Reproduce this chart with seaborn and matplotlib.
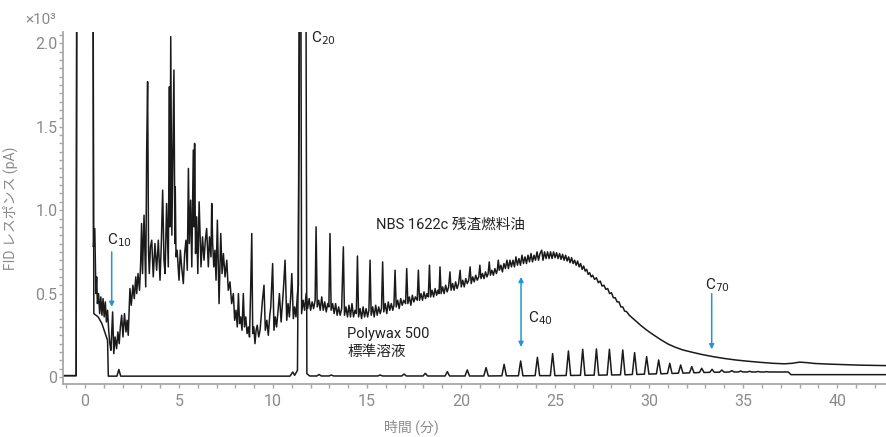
import matplotlib
matplotlib.use("Agg")
import matplotlib.pyplot as plt
from matplotlib.ticker import MultipleLocator
import pandas as pd
import seaborn as sns

# NBS 1622c residual fuel oil trace (time in min, response x10^3 pA)
oil_time = [
    -1.17, -0.47, -0.43, 0.42,
    0.45, 0.52, 0.58, 0.62, 0.66, 0.72, 0.78, 0.84, 0.90, 0.96, 1.02, 1.08, 1.14, 1.20,
    1.26, 1.32, 1.38, 1.47, 1.53, 1.60, 1.68, 1.75, 1.82, 1.88, 1.95, 2.02, 2.10, 2.18,
    2.24, 2.30, 2.39, 2.46, 2.55, 2.62, 2.70, 2.75, 2.82, 2.90, 2.96, 3.01, 3.06, 3.14,
    3.23, 3.28, 3.33, 3.38, 3.42, 3.48, 3.55, 3.63, 3.72, 3.81, 3.90, 3.99, 4.06, 4.13,
    4.20, 4.26, 4.34, 4.43, 4.49, 4.52, 4.56, 4.62, 4.67, 4.73, 4.78, 4.80, 4.84, 4.90,
    5.00, 5.07, 5.14, 5.23, 5.30, 5.37, 5.44, 5.50, 5.55, 5.62, 5.68, 5.76, 5.80, 5.83,
    5.88, 5.94, 6.00, 6.07, 6.17, 6.25, 6.33, 6.40, 6.47, 6.56, 6.62, 6.70, 6.74, 6.79,
    6.85, 6.91, 6.97, 7.04, 7.13, 7.22, 7.29, 7.36, 7.45, 7.54, 7.62, 7.71, 7.80, 7.89,
    7.96, 8.03, 8.10, 8.16, 8.22, 8.28, 8.35, 8.42, 8.48, 8.55, 8.62, 8.69, 8.75, 8.81,
    8.87, 8.92, 8.98, 9.04, 9.10, 9.16, 9.24, 9.31, 9.37, 9.43, 9.52, 9.59, 9.67, 9.75,
    9.82, 9.88, 9.98, 10.05, 10.12, 10.19, 10.27, 10.34, 10.43, 10.50, 10.55, 10.64,
    10.73, 10.80, 10.87, 10.94, 11.00, 11.08, 11.15, 11.22, 11.30, 11.35, 11.40, 11.47,
    11.52, 11.60, 11.68, 11.76, 11.84, 11.92, 12.00, 12.08, 12.16, 12.24, 12.29, 12.35,
    12.43, 12.51, 12.59, 12.67, 12.75, 12.83, 12.91, 12.97, 13.03, 13.09, 13.17, 13.25,
    13.33, 13.41, 13.49, 13.57, 13.65, 13.74, 13.80, 13.88, 13.96, 14.04, 14.12, 14.20,
    14.28, 14.36, 14.43, 14.49, 14.55, 14.63, 14.71, 14.79, 14.87, 14.95, 15.03, 15.10,
    15.16, 15.22, 15.30, 15.38, 15.46, 15.54, 15.62, 15.70, 15.77, 15.83, 15.89, 15.97,
    16.05, 16.13, 16.21, 16.29, 16.37, 16.43, 16.49, 16.55, 16.63, 16.71, 16.79, 16.87,
    16.95, 17.05, 17.11, 17.17, 17.25, 17.33, 17.41, 17.49, 17.57, 17.67, 17.73, 17.79,
    17.87, 17.95, 18.03, 18.11, 18.19, 18.26, 18.32, 18.38, 18.46, 18.54, 18.62, 18.70,
    18.77, 18.83, 18.88, 18.94, 19.02, 19.10, 19.18, 19.26, 19.34, 19.41, 19.47, 19.55,
    19.63, 19.71, 19.79, 19.87, 19.95, 20.01, 20.09, 20.17, 20.25, 20.33, 20.41, 20.48,
    20.54, 20.62, 20.70, 20.78, 20.86, 20.94, 21.00, 21.06, 21.14, 21.22, 21.30, 21.38,
    21.44, 21.50, 21.56, 21.64, 21.72, 21.80, 21.88, 21.93, 21.98, 22.04,
    22.12, 22.20, 22.28, 22.36, 22.44, 22.52, 22.60, 22.68, 22.76, 22.84, 22.92, 23.00,
    23.08, 23.16, 23.24, 23.32, 23.40, 23.48, 23.56, 23.64, 23.72, 23.80, 23.88, 23.96,
    24.04, 24.12, 24.20, 24.29, 24.36, 24.44, 24.52, 24.60, 24.68, 24.76, 24.84, 24.92,
    25.00, 25.08, 25.16, 25.24, 25.32, 25.40, 25.48, 25.56, 25.64, 25.72, 25.80, 25.88,
    25.96, 26.04, 26.12, 26.20, 26.28, 26.36, 26.44, 26.52, 26.60, 26.68, 26.76, 26.84,
    26.92, 27.00, 27.10, 27.20, 27.30, 27.40, 27.50, 27.60, 27.70, 27.80, 27.90, 28.00,
    28.10, 28.20, 28.30, 28.40, 28.50, 28.60, 28.70, 28.80, 28.95, 29.10, 29.30, 29.55,
    29.85, 30.20, 30.60, 31.00, 31.40, 31.80, 32.30, 32.80, 33.40, 34.00, 34.60, 35.20,
    35.90, 36.60, 37.20, 37.60, 38.00, 38.40, 38.80, 39.60, 40.40, 41.20, 42.70,
]
oil_resp = [
    0.008, 0.008, 3.0, 3.0,
    0.78, 0.89, 0.50, 0.60, 0.44, 0.50, 0.38, 0.48, 0.37, 0.47, 0.36, 0.45, 0.33, 0.40,
    0.28, 0.20, 0.16, 0.39, 0.14, 0.24, 0.17, 0.27, 0.20, 0.30, 0.37, 0.24, 0.38, 0.27,
    0.34, 0.25, 0.53, 0.43, 0.55, 0.47, 0.60, 0.50, 0.62, 0.52, 0.68, 0.92, 0.62, 0.97,
    0.54, 1.35, 1.77, 0.75, 0.62, 0.78, 0.82, 0.60, 0.80, 0.64, 0.82, 0.58, 0.80, 1.12,
    0.70, 0.62, 1.04, 0.66, 1.74, 0.90, 2.04, 0.85, 1.30, 1.84, 0.80, 1.14, 0.72, 0.76,
    0.58, 0.76, 0.66, 0.56, 0.74, 0.82, 0.64, 1.25, 0.80, 1.06, 0.66, 1.36, 0.90, 1.40,
    0.74, 0.96, 0.62, 1.05, 0.66, 0.84, 0.70, 0.82, 0.89, 0.66, 0.84, 0.72, 1.04, 0.80,
    0.66, 0.76, 0.58, 0.94, 0.44, 0.86, 0.62, 0.74, 0.60, 0.70, 0.52, 0.57, 0.44, 0.50,
    0.34, 0.40, 0.30, 0.50, 0.32, 0.36, 0.28, 0.50, 0.30, 0.36, 0.26, 0.30, 0.24, 0.52,
    0.86, 0.26, 0.30, 0.20, 0.28, 0.31, 0.24, 0.28, 0.36, 0.45, 0.55, 0.28, 0.34, 0.25,
    0.36, 0.42, 0.68, 0.28, 0.36, 0.30, 0.40, 0.50, 0.33, 0.44, 0.52, 0.70,
    0.34, 0.44, 0.36, 0.48, 0.62, 0.35, 0.42, 0.36, 0.50, 0.55, 3.0, 3.0,
    0.38, 0.46, 0.40, 0.50, 0.41, 0.47, 0.40, 0.45, 0.41, 0.46, 0.90, 0.42,
    0.46, 0.40, 0.48, 0.40, 0.45, 0.39, 0.44, 0.42, 0.86, 0.40, 0.44, 0.38,
    0.44, 0.37, 0.42, 0.37, 0.41, 0.78, 0.37, 0.42, 0.36, 0.43, 0.36, 0.44,
    0.36, 0.40, 0.38, 0.725, 0.36, 0.41, 0.35, 0.42, 0.36, 0.41, 0.36, 0.40,
    0.70, 0.37, 0.42, 0.36, 0.43, 0.37, 0.42, 0.38, 0.41, 0.69, 0.39, 0.44,
    0.38, 0.45, 0.40, 0.44, 0.40, 0.43, 0.64, 0.42, 0.46, 0.41, 0.47, 0.43,
    0.46, 0.44, 0.65, 0.44, 0.48, 0.43, 0.49, 0.45, 0.48, 0.46, 0.64, 0.46,
    0.50, 0.46, 0.51, 0.47, 0.50, 0.48, 0.67, 0.48, 0.52, 0.48, 0.53, 0.49,
    0.52, 0.50, 0.66, 0.50, 0.54, 0.50, 0.55, 0.51, 0.54, 0.63, 0.52, 0.56,
    0.52, 0.57, 0.53, 0.56, 0.64, 0.54, 0.58, 0.54, 0.59, 0.56, 0.58, 0.66,
    0.56, 0.60, 0.57, 0.61, 0.58, 0.60, 0.67, 0.59, 0.62, 0.59, 0.63, 0.60,
    0.62, 0.69, 0.61, 0.64, 0.61, 0.65, 0.62, 0.64, 0.70, 0.64,
    0.67, 0.63, 0.68, 0.65, 0.70, 0.65, 0.70, 0.66, 0.70, 0.66, 0.72, 0.67,
    0.71, 0.67, 0.73, 0.68, 0.72, 0.68, 0.73, 0.69, 0.74, 0.69, 0.73, 0.70,
    0.75, 0.70, 0.74, 0.76, 0.70, 0.75, 0.71, 0.75, 0.71, 0.75, 0.71, 0.75,
    0.715, 0.745, 0.71, 0.74, 0.705, 0.735, 0.70, 0.73, 0.695, 0.72, 0.685, 0.715,
    0.68, 0.70, 0.67, 0.695, 0.66, 0.68, 0.645, 0.665, 0.635, 0.645, 0.615, 0.625,
    0.60, 0.61, 0.585, 0.595, 0.565, 0.575, 0.545, 0.55, 0.525, 0.53, 0.50, 0.505,
    0.475, 0.475, 0.45, 0.45, 0.42, 0.42, 0.395, 0.392, 0.37, 0.355, 0.335, 0.31,
    0.283, 0.255, 0.225, 0.198, 0.178, 0.162, 0.148, 0.135, 0.122, 0.111, 0.102, 0.095,
    0.088, 0.082, 0.079, 0.082, 0.089, 0.086, 0.081, 0.077, 0.074, 0.071, 0.068,
]

# Polywax 500 standard: solvent front and C20 marker
pw_front_time = [-1.17, -0.47, -0.43, 0.42, 0.47, 0.70, 0.90, 1.05, 1.20, 1.24, 1.70,
                 1.80, 1.90, 10.90, 11.05, 11.15, 11.30, 11.48, 11.74, 11.80, 11.95]
pw_front_resp = [0.008, 0.008, 3.0, 3.0, 0.38, 0.36, 0.32, 0.27, 0.22, 0.005, 0.005,
                 0.045, 0.005, 0.005, 0.03, 0.01, 0.04, 3.0, 3.0, 0.02, 0.006]
# Polywax n-alkane peaks after C20
pw_peak_time = [12.45, 13.10, 15.70, 16.97, 18.10, 19.27, 20.33, 21.33, 22.29, 23.17,
                24.06, 24.87, 25.71, 26.47, 27.20, 27.89, 28.60, 29.23, 29.87, 30.51,
                31.10, 31.68, 32.27, 32.80, 33.35, 33.87, 34.40, 34.87, 35.35, 35.80, 36.25]
pw_peak_top = [0.015, 0.012, 0.012, 0.018, 0.022, 0.032, 0.042, 0.056, 0.076, 0.096,
               0.118, 0.140, 0.156, 0.166, 0.168, 0.166, 0.162, 0.146, 0.122, 0.102,
               0.082, 0.072, 0.062, 0.052, 0.046, 0.042, 0.038, 0.036, 0.034, 0.033, 0.032]
pw_peak_base = [0.006, 0.006, 0.006, 0.006, 0.006, 0.006, 0.006, 0.006, 0.007, 0.007,
                0.008, 0.008, 0.009, 0.010, 0.011, 0.012, 0.013, 0.015, 0.017, 0.019,
                0.021, 0.023, 0.025, 0.027, 0.028, 0.029, 0.030, 0.030, 0.030, 0.030, 0.030]
pw_tail_time = [36.50, 37.40, 37.55, 42.70]
pw_tail_resp = [0.030, 0.030, 0.014, 0.014]

# build the polywax line: baseline - apex - baseline for each peak
pw_t = list(pw_front_time)
pw_r = list(pw_front_resp)
for t, top, base in zip(pw_peak_time, pw_peak_top, pw_peak_base):
    pw_t += [t - 0.12, t, t + 0.12]
    pw_r += [base, top, base]
pw_t += pw_tail_time
pw_r += pw_tail_resp

oil = pd.DataFrame({"time": oil_time, "resp": oil_resp})
pw = pd.DataFrame({"time": pw_t, "resp": pw_r})

sns.set_style("white")
plt.rcParams["font.family"] = ["Roboto", "Noto Sans CJK JP", "DejaVu Sans"]

grey = "#8a8a8a"
blue = "#2196d3"

fig = plt.figure(figsize=(8.86, 4.37), dpi=100)
ax = fig.add_axes([0.0711, 0.1213, 0.9289, 0.8055])

sns.lineplot(data=pw, x="time", y="resp", estimator=None, sort=False,
             color="#1a1a1a", lw=1.1, ax=ax)
sns.lineplot(data=oil, x="time", y="resp", estimator=None, sort=False,
             color="#1a1a1a", lw=1.1, ax=ax)

ax.set_xlim(-1.17, 42.6)
ax.set_ylim(-0.042, 2.068)
ax.xaxis.set_major_locator(MultipleLocator(5))
ax.xaxis.set_minor_locator(MultipleLocator(1))
ax.yaxis.set_major_locator(MultipleLocator(0.5))
ax.yaxis.set_minor_locator(MultipleLocator(0.05))
ax.set_yticks([0, 0.5, 1.0, 1.5, 2.0])
ax.set_yticklabels(["0", "0.5", "1.0", "1.5", "2.0"])

sns.despine(ax=ax)
for side in ["left", "bottom"]:
    ax.spines[side].set_color("#a8a8a8")
    ax.spines[side].set_linewidth(1.3)
ax.tick_params(which="both", direction="out", color="#a8a8a8", length=3, width=1,
               labelcolor=grey, labelsize=11.5, bottom=True, left=True)
ax.tick_params(axis="y", which="both", pad=1)
ax.tick_params(axis="x", which="both", pad=4)

ax.set_xlabel("時間 (分)", color=grey, fontsize=10)
ax.set_ylabel("FID レスポンス (pA)", color=grey, fontsize=10)
ax.xaxis.set_label_coords(0.423, -0.10)
ax.yaxis.set_label_coords(-0.055, 0.5)
fig.text(41 / 886, 1 - 20 / 437, "×10³", color=grey, fontsize=11, ha="center", va="center")

# annotations
ax.text(15.48, 0.91, "NBS 1622c 残渣燃料油", fontsize=10.5, color="#222222", va="center")
ax.text(13.94, 0.205, "Polywax 500\n標準溶液", fontsize=10.5, color="#222222",
        va="center", linespacing=1.35)
ax.text(1.17, 0.82, "C$_{10}$", fontsize=11, color="#222222", va="center")
ax.text(12.0, 2.03, "C$_{20}$", fontsize=11, color="#222222", va="center")
ax.text(23.56, 0.35, "C$_{40}$", fontsize=11, color="#222222", va="center")
ax.text(32.98, 0.55, "C$_{70}$", fontsize=11, color="#222222", va="center")

arrow = dict(arrowstyle="-|>", color=blue, lw=1.1, mutation_scale=7, shrinkA=0, shrinkB=0)
ax.annotate("", xy=(1.42, 0.42), xytext=(1.42, 0.75), arrowprops=arrow)
ax.annotate("", xy=(33.33, 0.166), xytext=(33.33, 0.50), arrowprops=arrow)
ax.annotate("", xy=(23.19, 0.18), xytext=(23.19, 0.60),
            arrowprops=dict(arrowstyle="<|-|>", color=blue, lw=1.1, mutation_scale=7,
                            shrinkA=0, shrinkB=0))

fig.savefig("out.png", dpi=100)
